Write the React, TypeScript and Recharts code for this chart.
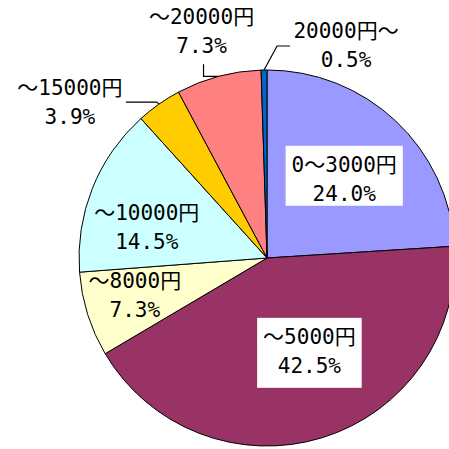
import React from 'react';
import { PieChart, Pie, Cell } from 'recharts';

const categories = ['0～3000円', '～5000円', '～8000円', '～10000円', '～15000円', '～20000円', '20000円～'];
const shares = [24.0, 42.5, 7.3, 14.5, 3.9, 7.3, 0.5];
const colors = ['#9999FF', '#993366', '#FFFFCC', '#CCFFFF', '#FFCC00', '#FF8080', '#0066CC'];

const data = categories.map((name, i) => ({ name, value: shares[i] }));

// how each slice's label is placed
const labelLayout: any[] = [
  { kind: 'box', r: 0.6, dx: 0, dy: 4, h: 60 },
  { kind: 'box', r: 0.55, dx: 12, dy: -5, h: 70 },
  { kind: 'plain', r: 0.72, dx: -3, dy: -3 },
  { kind: 'plain', r: 0.66, dx: -5, dy: 16 },
  { kind: 'out', path: [[-2, -2], [-33, -2]], tx: -89, ty: -2 },
  { kind: 'out', path: [[-15, 0], [-15, -12]], tx: -17, ty: -45 },
  { kind: 'out', path: [[13, -24], [26, -24]], tx: 82, ty: -25 },
];

const RAD = Math.PI / 180;
const FONT = "'DejaVu Sans Mono', 'Noto Sans CJK JP', monospace";
const FS = 21;

const textWidth = (s: string) =>
  Array.from(s).reduce((w, ch) => w + (ch.charCodeAt(0) > 255 ? FS : FS * 0.602), 0);

const renderLabel = (props: any) => {
  const { cx, cy, midAngle, outerRadius, index, name, value } = props;
  const lay = labelLayout[index];
  const cos = Math.cos(-midAngle * RAD);
  const sin = Math.sin(-midAngle * RAD);
  const pct = `${value.toFixed(1)}%`;
  let x: number;
  let y: number;
  const parts: React.ReactNode[] = [];
  if (lay.kind === 'out') {
    const ex = cx + outerRadius * cos;
    const ey = cy + outerRadius * sin;
    const pts = [[ex, ey], ...lay.path.map((p: number[]) => [ex + p[0], ey + p[1]])];
    parts.push(
      <polyline key="l" points={pts.map((p) => p.join(',')).join(' ')} fill="none" stroke="#000" strokeWidth={1.2} />
    );
    x = ex + lay.tx;
    y = ey + lay.ty;
  } else {
    x = cx + outerRadius * lay.r * cos + lay.dx;
    y = cy + outerRadius * lay.r * sin + lay.dy;
    if (lay.kind === 'box') {
      const w = textWidth(name) + 12;
      parts.push(<rect key="b" x={x - w / 2} y={y - 34} width={w} height={lay.h} fill="#fff" />);
    }
  }
  return (
    <g key={`lab-${index}`}>
      {parts}
      <text x={x} y={y - 14.5} textAnchor="middle" dominantBaseline="central" fontSize={FS} fontFamily={FONT} fill="#000">
        {name}
      </text>
      <text x={x} y={y + 14.5} textAnchor="middle" dominantBaseline="central" fontSize={FS} fontFamily={FONT} fill="#000">
        {pct}
      </text>
    </g>
  );
};

export default function App() {
  return (
    <div style={{ position: 'absolute', left: 0, top: 0, width: 449, height: 449, background: '#fff' }}>
      <PieChart width={449} height={449} margin={{ top: 0, right: 0, bottom: 0, left: 0 }}>
        <Pie
          data={data}
          dataKey="value"
          nameKey="name"
          cx={267}
          cy={258}
          outerRadius={188}
          startAngle={90}
          endAngle={-270}
          stroke="#000"
          strokeWidth={1}
          label={renderLabel}
          labelLine={false}
          isAnimationActive={false}
        >
          {data.map((d, i) => (
            <Cell key={d.name} fill={colors[i]} />
          ))}
        </Pie>
      </PieChart>
    </div>
  );
}
